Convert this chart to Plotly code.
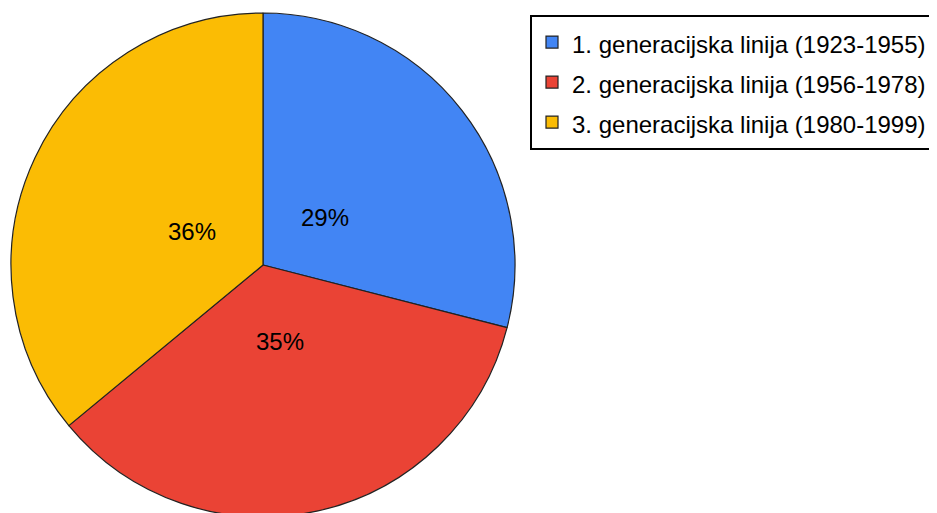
import math
import plotly.graph_objects as go

labels = ["1. generacijska linija (1923-1955)",
          "2. generacijska linija (1956-1978)",
          "3. generacijska linija (1980-1999)"]
values = [29, 35, 36]
colors = ["#4285F4", "#EA4335", "#FBBC04"]

W, H = 937, 513
OFF = 8  # page body margin

# pie geometry (figure pixels)
CX, CY, R = 263 - OFF, 265 - OFF, 252

legend_labels = [f'<span style="font-size:24px">{t}</span>' for t in labels]

fig = go.Figure(go.Pie(
    labels=legend_labels,
    values=values,
    sort=False,
    direction="clockwise",
    rotation=0,
    marker=dict(colors=colors, line=dict(color="#222222", width=1.2)),
    textinfo="none",
    domain=dict(x=[(CX - R) / W, (CX + R) / W], y=[1 - (CY + R) / H, 1 - (CY - R) / H]),
    hoverinfo="label+percent",
))

# percentage labels placed along each slice's bisector
total = sum(values)
cum = 0
for v in values:
    mid = (cum + v / 2) / total * 2 * math.pi
    cum += v
    r = 0.31 * R
    px = CX + r * math.sin(mid)
    py = CY - r * math.cos(mid)
    fig.add_annotation(
        x=px / W, y=1 - py / H, xref="paper", yref="paper",
        xanchor="center", yanchor="middle",
        text=f"{round(v / total * 100)}%", showarrow=False,
        font=dict(family="Liberation Sans, Arial, sans-serif", size=24, color="#000000"),
    )

fig.update_layout(
    width=W, height=H,
    margin=dict(l=0, r=0, t=0, b=0, autoexpand=False),
    paper_bgcolor="white",
    plot_bgcolor="white",
    font=dict(family="Liberation Sans, Arial, sans-serif", size=24, color="#000000"),
    legend=dict(
        x=522 / W, y=1 - 7 / H, xanchor="left", yanchor="top",
        bordercolor="#000000", borderwidth=2,
        font=dict(size=28.5),
        traceorder="normal",
        itemwidth=30,
    ),
    showlegend=True,
)

fig.write_html("out.html")
